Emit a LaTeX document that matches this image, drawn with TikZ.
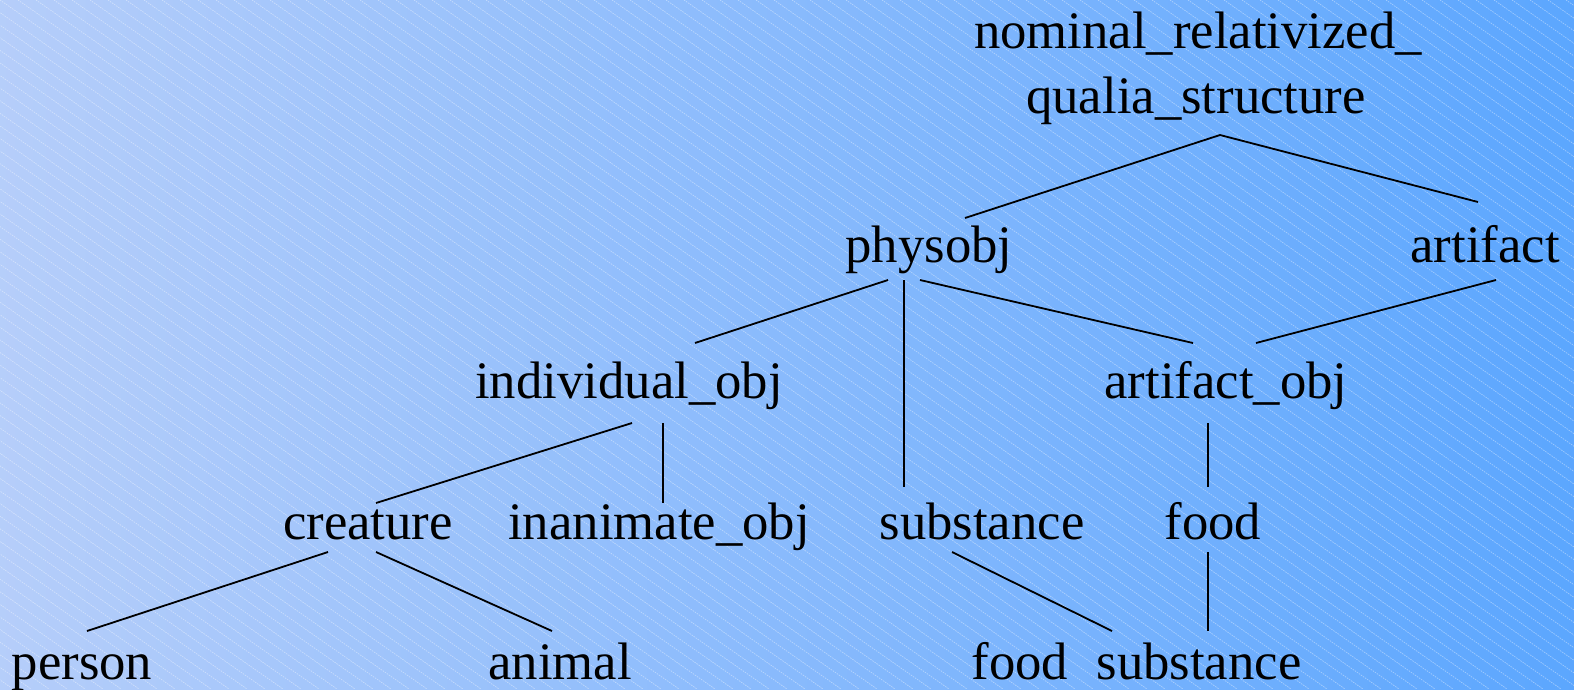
\documentclass[tikz,border=0pt]{standalone}
\usepackage{fontspec}
\setmainfont{Liberation Serif}
\usetikzlibrary{calc}
\definecolor{bgA}{RGB}{205,216,249}
\definecolor{bgB}{RGB}{68,156,255}
\begin{document}
\begin{tikzpicture}[x=1pt,y=-1pt,
  lbl/.style={anchor=base,inner sep=0pt,font=\rmfamily\fontsize{52.7}{60}\selectfont},
  edge/.style={line width=1.8pt,black},
  hatch/.style={white,opacity=0.4,line width=0.7pt,dash pattern=on 1.5pt off 1pt}]
\useasboundingbox (0,0) rectangle (1574,689);
\begin{scope}
\clip (0,0) rectangle (1574,689);
\begin{scope}[shift={(787,344.5)},rotate=-25]
\shade[left color=bgA,right color=bgB] (-860,-1000) rectangle (860,1000);
\end{scope}
\foreach \k in {-1080,-1062,...,1590}{
  \draw[hatch] (\k,0) -- ++(985,689);
}
\end{scope}
% nodes
\node[lbl] (nom) at (1198,48) {nominal\_relativized\_};
\node[lbl] (qualia) at (1196,113) {qualia\_structure};
\node[lbl] (physobj) at (929,262) {physobj};
\node[lbl] (artifact) at (1485,262) {artifact};
\node[lbl] (indiv) at (629,398) {individual\_obj};
\node[lbl] (artobj) at (1226,398) {artifact\_obj};
\node[lbl] (creature) at (368,539) {creature};
\node[lbl] (inanim) at (659,539) {inanimate\_obj};
\node[lbl] (subst) at (982,539) {substance};
\node[lbl] (food) at (1213,539) {food};
\node[lbl] (person) at (82,679) {person};
\node[lbl] (animal) at (560,679) {animal};
\node[lbl] (foodb) at (1020,679) {food};
\node[lbl] (substb) at (1199,679) {substance};
% connectors
\draw[edge] ([shift={(24,22)}]qualia.base) -- ([shift={(36,-44)}]physobj.base);
\draw[edge] ([shift={(24,22)}]qualia.base) -- ([shift={(-7,-60)}]artifact.base);
\draw[edge] ([shift={(-41,18)}]physobj.base) -- ([shift={(66,-55)}]indiv.base);
\draw[edge] ([shift={(-25,18)}]physobj.base) -- ([shift={(-78,-52)}]subst.base);
\draw[edge] ([shift={(-9,18)}]physobj.base) -- ([shift={(-33,-55)}]artobj.base);
\draw[edge] ([shift={(11,18)}]artifact.base) -- ([shift={(30,-55)}]artobj.base);
\draw[edge] ([shift={(3,25)}]indiv.base) -- ([shift={(8,-36)}]creature.base);
\draw[edge] ([shift={(34,25)}]indiv.base) -- ([shift={(4,-36)}]inanim.base);
\draw[edge] ([shift={(-18,25)}]artobj.base) -- ([shift={(-5,-52)}]food.base);
\draw[edge] ([shift={(-40,13)}]creature.base) -- ([shift={(5,-48)}]person.base);
\draw[edge] ([shift={(8,13)}]creature.base) -- ([shift={(-8,-48)}]animal.base);
\draw[edge] ([shift={(-30,13)}]subst.base) -- ([shift={(-87,-48)}]substb.base);
\draw[edge] ([shift={(-5,13)}]food.base) -- ([shift={(9,-48)}]substb.base);
\end{tikzpicture}
\end{document}
